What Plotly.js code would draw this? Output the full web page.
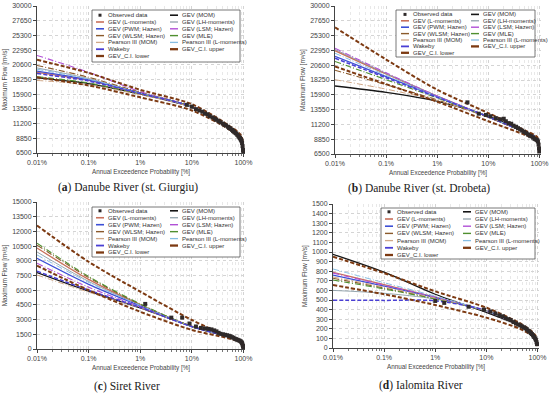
<!DOCTYPE html>
<html><head><meta charset="utf-8">
<script src="https://cdn.plot.ly/plotly-3.0.1.min.js"></script>
<style>html,body{margin:0;padding:0;background:#fff}#chart{width:550px;height:394px}</style>
</head><body><div id="chart"></div>
<script>
// ---------- DATA ----------
const P_FIT = [0.01, 0.1, 1, 10, 50, 90, 99];           // exceedance probability [%]
const X_TICKS = [0.01, 0.1, 1, 10, 100];
const X_TICK_LABELS = ['0.01%', '0.1%', '1%', '10%', '100%'];

// (a) Danube River (st. Giurgiu)
const A_OBS_P = [8, 10, 12, 14, 16, 18, 20, 22, 25, 28, 30, 33, 36, 40, 43, 46, 50, 53, 56, 60, 63, 66, 70, 73, 76, 80, 83, 86, 88, 90, 92, 94, 96, 98, 99];
const A_OBS_Q = [14200, 13900, 13500, 13300, 13100, 12800, 12700, 12400, 12200, 12000, 11800, 11600, 11400, 11200, 11000, 10900, 10700, 10500, 10400, 10200, 10000, 9900, 9700, 9600, 9400, 9200, 9000, 8900, 8700, 8600, 8400, 8100, 7600, 7000, 6500];
const A_GEV_MOM   = [18500, 17600, 15900, 13800, 10700, 9000, 7000];
const A_GEV_LMOM  = [19400, 18100, 16000, 13900, 10700, 8900, 6900];
const A_GEV_LH    = [20100, 18400, 16100, 13900, 10700, 8900, 6900];
const A_GEV_PWM   = [19600, 18200, 16100, 13900, 10700, 8900, 6900];
const A_GEV_LSM   = [22100, 19400, 16300, 13900, 10700, 9000, 7000];
const A_GEV_WLSM  = [20500, 18600, 16200, 13900, 10700, 8900, 6900];
const A_GEV_MLE   = [18700, 17700, 15900, 13900, 10700, 8900, 6900];
const A_P3_MOM    = [18100, 17400, 15800, 13800, 10700, 9000, 7000];
const A_P3_LMOM   = [19900, 18300, 16100, 13900, 10700, 8900, 6900];
const A_WAKEBY    = [19200, 18000, 16000, 13900, 10700, 8900, 6800];
const A_CI_UPPER  = [21400, 19300, 16600, 14300, 11000, 9300, 7400];
const A_CI_LOWER  = [18600, 17300, 15400, 13300, 10400, 8600, 6600];
const A_Y_TICKS = [6500, 8850, 11200, 13550, 15900, 18250, 20600, 22950, 25300, 27650, 30000];

// (b) Danube River (st. Drobeta)
const B_OBS_P = [3.9, 6.5, 9, 11, 14, 17, 20, 22, 25, 28, 31, 35, 38, 42, 46, 50, 55, 60, 65, 70, 75, 80, 85, 90, 93, 96, 98, 99];
const B_OBS_Q = [14700, 12900, 12700, 12500, 12200, 12000, 12100, 11700, 11400, 11300, 11000, 10800, 10600, 10400, 10200, 10000, 9800, 9600, 9400, 9300, 9100, 8900, 8800, 8700, 8500, 8000, 7400, 6900];
const B_GEV_MOM   = [17300, 16300, 14900, 12500, 10100, 9000, 7800];
const B_GEV_LMOM  = [22900, 19200, 15700, 12400, 10000, 9000, 7600];
const B_GEV_LH    = [23100, 19300, 15700, 12400, 10000, 9000, 7600];
const B_GEV_PWM   = [22000, 18800, 15600, 12400, 10000, 9000, 7600];
const B_GEV_LSM   = [23300, 19400, 15700, 12400, 10000, 9000, 7600];
const B_GEV_WLSM  = [19800, 17500, 15100, 12300, 10000, 9000, 7600];
const B_GEV_MLE   = [21200, 18300, 15400, 12400, 10000, 9000, 7600];
const B_P3_MOM    = [18300, 16800, 15000, 12400, 10000, 9000, 7700];
const B_P3_LMOM   = [22500, 19000, 15600, 12400, 10000, 9000, 7600];
const B_WAKEBY    = [21700, 18600, 15500, 12400, 10000, 9000, 7500];
const B_CI_UPPER  = [26600, 21500, 16700, 13000, 10300, 9200, 8000];
const B_CI_LOWER  = [20400, 17600, 14800, 11700, 9600, 8700, 7300];
const B_Y_TICKS = A_Y_TICKS;

// (c) Siret River
const C_OBS_P = [1.25, 4, 6.5, 9, 12, 15, 18, 21, 24, 27, 30, 33, 36, 40, 44, 48, 52, 56, 60, 64, 68, 72, 76, 80, 84, 88, 91, 94, 96, 98, 99];
const C_OBS_Q = [4600, 3200, 3200, 2600, 2300, 2150, 2100, 2050, 2000, 1900, 1800, 1650, 1550, 1500, 1450, 1400, 1350, 1300, 1200, 1150, 1050, 1000, 950, 900, 850, 800, 700, 600, 450, 300, 200];
const C_GEV_MOM   = [7800, 5900, 4200, 2300, 1260, 760, 220];
const C_GEV_LMOM  = [10300, 7100, 4500, 2300, 1250, 750, 200];
const C_GEV_LH    = [9900, 6900, 4450, 2280, 1250, 750, 200];
const C_GEV_PWM   = [9250, 6600, 4400, 2280, 1250, 750, 200];
const C_GEV_LSM   = [8750, 6300, 4300, 2280, 1250, 750, 200];
const C_GEV_WLSM  = [10600, 7300, 4550, 2300, 1250, 750, 200];
const C_GEV_MLE   = [10800, 7400, 4600, 2300, 1250, 750, 200];
const C_P3_MOM    = [7550, 5800, 4200, 2300, 1260, 760, 220];
const C_P3_LMOM   = [9600, 6800, 4450, 2280, 1250, 750, 200];
const C_WAKEBY    = [7950, 6000, 4250, 2280, 1250, 750, 200];
const C_CI_UPPER  = [12600, 8900, 5850, 2960, 1300, 800, 300];
const C_CI_LOWER  = [8500, 6000, 3800, 1950, 1100, 650, 150];
const C_Y_TICKS = [0, 1500, 3000, 4500, 6000, 7500, 9000, 10500, 12000, 13500, 15000];

// (d) Ialomita River
const D_OBS_P = [1, 1.5, 4.5, 9, 12, 15, 18, 21, 24, 27, 30, 34, 38, 42, 46, 50, 54, 58, 62, 66, 70, 74, 78, 82, 86, 90, 93, 96, 98];
const D_OBS_Q = [490, 470, 430, 400, 380, 360, 340, 330, 310, 300, 290, 270, 255, 245, 235, 225, 215, 205, 195, 180, 170, 155, 145, 130, 115, 100, 85, 60, 40];
const D_GEV_MOM   = [976, 790, 560, 370, 222, 118, 30];
const D_GEV_LMOM  = [788, 660, 530, 385, 222, 118, 30];
const D_GEV_LH    = [600, 570, 510, 385, 222, 118, 30];
const D_GEV_PWM   = [760, 645, 525, 385, 222, 118, 30];
const D_GEV_LSM   = [780, 655, 530, 385, 222, 118, 30];
const D_GEV_WLSM  = [726, 625, 515, 385, 222, 118, 30];
const D_GEV_MLE   = [708, 615, 510, 385, 222, 118, 30];
const D_P3_MOM    = [740, 635, 520, 385, 222, 118, 30];
const D_P3_LMOM   = [823, 680, 540, 385, 222, 118, 30];
const D_WAKEBY    = [497, 496, 492, 390, 222, 118, 30];
const D_CI_UPPER  = [951, 780, 590, 420, 245, 135, 45];
const D_CI_LOWER  = [656, 560, 448, 316, 190, 100, 20];
const D_Y_TICKS = [0, 100, 200, 300, 400, 500, 600, 700, 800, 900, 1000, 1100, 1200, 1300, 1400, 1500];

const SERIES_NAMES = ['Observed data', 'GEV (MOM)', 'GEV (L-moments)', 'GEV (LH-moments)', 'GEV (PWM; Hazen)', 'GEV (LSM; Hazen)',
  'GEV (WLSM; Hazen)', 'GEV (MLE)', 'Pearson III (MOM)', 'Pearson III (L-moments)', 'Wakeby', 'GEV_C.I. upper', 'GEV_C.I. lower'];
const CAPTIONS = ['(<b>a</b>) Danube River (st. Giurgiu)', '(<b>b</b>) Danube River (st. Drobeta)', '(<b>c</b>) Siret River', '(<b>d</b>) Ialomita River'];
const X_TITLE = 'Annual Exceedence Probability [%]';
const Y_TITLE = 'Maximum Flow [m³/s]';

// ---------- STYLES ----------
const STYLE = {
  'Observed data':          {marker: true, color: '#2f2a2a'},
  'GEV (MOM)':              {color: '#161616', dash: 'solid', width: 1.3},
  'GEV (L-moments)':        {color: '#c8705a', dash: 'solid', width: 1.3},
  'GEV (LH-moments)':       {color: '#8a9ca6', dash: 'solid', width: 0.9},
  'GEV (PWM; Hazen)':       {color: '#3c4fd6', dash: 'solid', width: 1.3},
  'GEV (LSM; Hazen)':       {color: '#b150d6', dash: '6px,2px,1px,2px', width: 1.1},
  'GEV (WLSM; Hazen)':      {color: '#8b5a2b', dash: '6px,2px,1px,2px', width: 1.1},
  'GEV (MLE)':              {color: '#4f8f2f', dash: '6px,2px,1px,2px', width: 1.1},
  'Pearson III (MOM)':      {color: '#d0a888', dash: '6px,2px,1px,2px', width: 1.0},
  'Pearson III (L-moments)':{color: '#86bde3', dash: '6px,2px,1px,2px', width: 1.0},
  'Wakeby':                 {color: '#4a3fd4', dash: '4px,2px', width: 1.5},
  'GEV_C.I. upper':         {color: '#7d3a12', dash: '4px,2px', width: 2.0},
  'GEV_C.I. lower':         {color: '#7d3a12', dash: '4px,2px', width: 2.0}
};

const PANELS = [
  {obsP: A_OBS_P, obsQ: A_OBS_Q, fits: [A_GEV_MOM, A_GEV_LMOM, A_GEV_LH, A_GEV_PWM, A_GEV_LSM, A_GEV_WLSM, A_GEV_MLE, A_P3_MOM, A_P3_LMOM, A_WAKEBY, A_CI_UPPER, A_CI_LOWER], yticks: A_Y_TICKS,
   px: [37, 245, 6, 153], leg: {x0: 92, x1: 240, y0: 10, y1: 62, r0: 15.2, dr: 6.8, lx: 96, rx: 170}, cap: [128, 187]},
  {obsP: B_OBS_P, obsQ: B_OBS_Q, fits: [B_GEV_MOM, B_GEV_LMOM, B_GEV_LH, B_GEV_PWM, B_GEV_LSM, B_GEV_WLSM, B_GEV_MLE, B_P3_MOM, B_P3_LMOM, B_WAKEBY, B_CI_UPPER, B_CI_LOWER], yticks: B_Y_TICKS,
   px: [335, 541, 6, 154], leg: {x0: 396, x1: 535, y0: 10, y1: 57, r0: 14.4, dr: 6.4, lx: 401, rx: 471}, cap: [419, 189]},
  {obsP: C_OBS_P, obsQ: C_OBS_Q, fits: [C_GEV_MOM, C_GEV_LMOM, C_GEV_LH, C_GEV_PWM, C_GEV_LSM, C_GEV_WLSM, C_GEV_MLE, C_P3_MOM, C_P3_LMOM, C_WAKEBY, C_CI_UPPER, C_CI_LOWER], yticks: C_Y_TICKS,
   px: [37, 245, 202, 349], leg: {x0: 92, x1: 240, y0: 207, y1: 257, r0: 210.8, dr: 6.95, lx: 96, rx: 170}, cap: [127, 386]},
  {obsP: D_OBS_P, obsQ: D_OBS_Q, fits: [D_GEV_MOM, D_GEV_LMOM, D_GEV_LH, D_GEV_PWM, D_GEV_LSM, D_GEV_WLSM, D_GEV_MLE, D_P3_MOM, D_P3_LMOM, D_WAKEBY, D_CI_UPPER, D_CI_LOWER], yticks: D_Y_TICKS,
   px: [333, 539, 204, 348], leg: {x0: 381, x1: 535, y0: 208, y1: 259, r0: 211.8, dr: 7.2, lx: 385, rx: 463}, cap: [421, 385]}
];

const W = 550, H = 394;
const fx = v => v / W, fy = v => 1 - v / H;
const FONT = 'Liberation Sans, Arial, sans-serif';

const minorX = [];
for (let e = -2; e < 2; e++) for (let k = 2; k <= 9; k++) minorX.push(k * Math.pow(10, e));

const traces = [];
const layout = {
  width: W, height: H, margin: {l: 0, r: 0, t: 0, b: 0},
  paper_bgcolor: '#fff', plot_bgcolor: '#fff', showlegend: false,
  font: {family: FONT, color: '#333'},
  shapes: [], annotations: []
};

const LEFT_COL = ['Observed data', 'GEV (L-moments)', 'GEV (PWM; Hazen)', 'GEV (WLSM; Hazen)', 'Pearson III (MOM)', 'Wakeby', 'GEV_C.I. lower'];
const RIGHT_COL = ['GEV (MOM)', 'GEV (LH-moments)', 'GEV (LSM; Hazen)', 'GEV (MLE)', 'Pearson III (L-moments)', 'GEV_C.I. upper'];

PANELS.forEach((pn, i) => {
  const n = i === 0 ? '' : String(i + 1);
  const xa = 'x' + n, ya = 'y' + n;
  const [x0, x1, yt, yb] = pn.px;
  layout['xaxis' + n] = {
    type: 'log', range: [-2, 2.03], domain: [fx(x0), fx(x1)], anchor: ya,
    tickvals: X_TICKS, ticktext: X_TICK_LABELS, tickfont: {size: 7, color: '#444', family: FONT},
    showline: true, linecolor: '#444', linewidth: 1, ticks: 'outside', ticklen: 3, tickcolor: '#444',
    showgrid: true, gridcolor: '#d4d4d4', griddash: 'dot', gridwidth: 1, zeroline: false,
    minor: {tickvals: minorX, showgrid: true, gridcolor: '#e8e8e8', griddash: 'dot', ticks: 'outside', ticklen: 1.5, tickcolor: '#777'},
    title: {text: X_TITLE, font: {size: 6.3, color: '#444', family: FONT}, standoff: 4}
  };
  layout['yaxis' + n] = {
    range: [pn.yticks[0], pn.yticks[pn.yticks.length - 1]], domain: [fy(yb), fy(yt)], anchor: xa,
    tickvals: pn.yticks, ticktext: pn.yticks.map(String), tickfont: {size: 7, color: '#444', family: FONT},
    showline: true, linecolor: '#444', linewidth: 1, ticks: 'outside', ticklen: 3, tickcolor: '#444',
    showgrid: true, gridcolor: '#d4d4d4', griddash: 'dot', zeroline: false,
    title: {text: Y_TITLE, font: {size: 6.5, color: '#444', family: FONT}, standoff: 3}
  };

  // fitted curves (names 1..12 align with fits array)
  pn.fits.forEach((vals, k) => {
    const name = SERIES_NAMES[k + 1];
    const s = STYLE[name];
    traces.push({x: P_FIT, y: vals, xaxis: xa, yaxis: ya, type: 'scatter', mode: 'lines', name,
      line: {color: s.color, dash: s.dash, width: s.width, shape: 'spline', smoothing: 0.8}, hoverinfo: 'skip'});
  });
  // observed data
  traces.push({x: pn.obsP, y: pn.obsQ, xaxis: xa, yaxis: ya, type: 'scatter', mode: 'markers', name: 'Observed data',
    marker: {symbol: 'square', size: 4, color: STYLE['Observed data'].color}, hoverinfo: 'skip'});

  // legend box
  const L = pn.leg;
  layout.shapes.push({type: 'rect', xref: 'paper', yref: 'paper', x0: fx(L.x0), x1: fx(L.x1), y0: fy(L.y1), y1: fy(L.y0),
    fillcolor: '#ffffff', line: {color: '#555', width: 0.8}, layer: 'above'});
  const addItem = (name, row, sx) => {
    const yy = L.r0 + row * L.dr;
    const s = STYLE[name];
    if (s.marker) {
      layout.shapes.push({type: 'rect', xref: 'paper', yref: 'paper', x0: fx(sx + 2.5), x1: fx(sx + 5.5), y0: fy(yy + 1.5), y1: fy(yy - 1.5),
        fillcolor: s.color, line: {width: 0}, layer: 'above'});
    } else {
      layout.shapes.push({type: 'line', xref: 'paper', yref: 'paper', x0: fx(sx), x1: fx(sx + 8), y0: fy(yy), y1: fy(yy),
        line: {color: s.color, width: s.width + 0.3, dash: s.dash === 'solid' ? 'solid' : (s.width >= 1.5 ? 'dash' : 'dashdot')}, layer: 'above'});
    }
    layout.annotations.push({xref: 'paper', yref: 'paper', x: fx(sx + 10), y: fy(yy), xanchor: 'left', yanchor: 'middle',
      text: name, showarrow: false, font: {size: 6, color: '#333', family: FONT}});
  };
  LEFT_COL.forEach((nm, r) => addItem(nm, r, L.lx));
  RIGHT_COL.forEach((nm, r) => addItem(nm, r, L.rx));

  // caption
  layout.annotations.push({xref: 'paper', yref: 'paper', x: fx(pn.cap[0]), y: fy(pn.cap[1]), xanchor: 'center', yanchor: 'middle',
    text: CAPTIONS[i], showarrow: false, font: {size: 11.5, color: '#222', family: 'Liberation Serif, DejaVu Serif, serif'}});
});

Plotly.newPlot('chart', traces, layout, {staticPlot: true, displayModeBar: false});
</script></body></html>
